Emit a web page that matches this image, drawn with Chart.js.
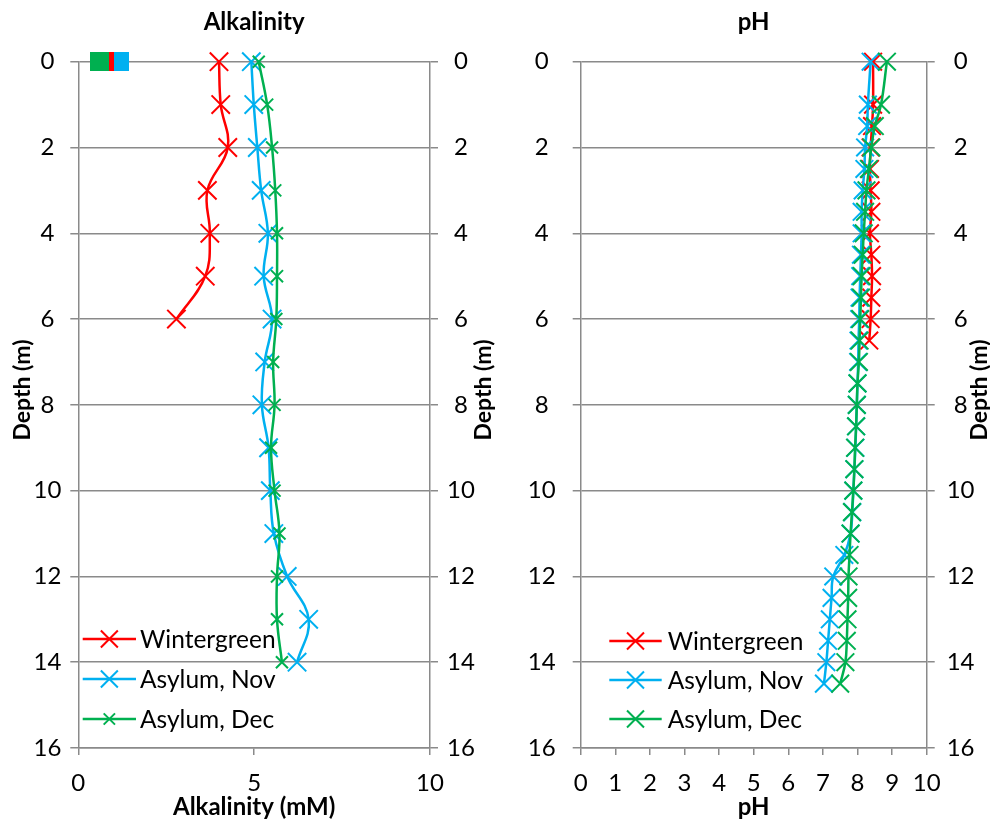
<!DOCTYPE html>
<html><head><meta charset="utf-8">
<script src="https://cdn.jsdelivr.net/npm/chart.js@4"></script>
<style>
html,body{margin:0;padding:0;background:#fff;}
#wrap{position:relative;width:990px;height:823px;overflow:hidden;}
.c{position:absolute;top:0;width:495px;height:823px;}
</style></head><body>
<div id="wrap">
<div class="c" style="left:0"><canvas id="c1" width="495" height="823"></canvas></div>
<div class="c" style="left:495px"><canvas id="c2" width="495" height="823"></canvas></div>
</div>
<script>
// ---- Data ----
const seriesNames = ['Wintergreen', 'Asylum, Nov', 'Asylum, Dec'];
const depthTicks = [0, 2, 4, 6, 8, 10, 12, 14, 16];

// Alkalinity (mM)
const alkDepthWintergreen = [0, 1, 2, 3, 4, 5, 6];
const alkWintergreen = [4.00, 4.05, 4.25, 3.67, 3.74, 3.61, 2.79];
const alkDepthAsylum = [0, 1, 2, 3, 4, 5, 6, 7, 8, 9, 10, 11, 12, 13, 14];
const alkNov = [4.92, 4.99, 5.09, 5.20, 5.39, 5.27, 5.51, 5.30, 5.22, 5.41, 5.46, 5.56, 5.94, 6.55, 6.22];
const alkDec = [5.13, 5.37, 5.51, 5.60, 5.65, 5.65, 5.63, 5.54, 5.58, 5.48, 5.58, 5.72, 5.65, 5.65, 5.79];

// pH
const phDepthWintergreen = [0, 1, 1.5, 2, 2.5, 3, 3.5, 4, 4.5, 5, 5.5, 6, 6.5];
const phWintergreen = [8.45, 8.45, 8.42, 8.38, 8.36, 8.38, 8.40, 8.36, 8.40, 8.42, 8.40, 8.38, 8.34];
const phDepthAsylum = [0, 1, 1.5, 2, 2.5, 3, 3.5, 4, 4.5, 5, 5.5, 6, 6.5, 7, 7.5, 8, 8.5, 9, 9.5, 10, 10.5, 11, 11.5, 12, 12.5, 13, 13.5, 14, 14.5];
const phNov = [8.38, 8.30, 8.28, 8.22, 8.20, 8.15, 8.12, 8.12, 8.10, 8.08, 8.06, 8.05, 8.03, 8.02, 8.00, 7.98, 7.96, 7.94, 7.91, 7.88, 7.85, 7.80, 7.62, 7.30, 7.25, 7.20, 7.15, 7.10, 7.03];
const phDec = [8.85, 8.68, 8.50, 8.40, 8.33, 8.26, 8.22, 8.18, 8.15, 8.12, 8.10, 8.08, 8.06, 8.04, 8.00, 7.98, 7.96, 7.93, 7.91, 7.88, 7.84, 7.80, 7.77, 7.74, 7.73, 7.71, 7.69, 7.65, 7.50];

// ---- Styles ----
const RED = '#FF0000', BLUE = '#00B0F0', GREEN = '#00B050';
const GRID = '#8a8a8a';
const FONT = 'Lato, "Open Sans", sans-serif';
const TICK_SIZE = 24;

function pts(xs, ys) { return xs.map((v, i) => ({x: v, y: ys[i]})); }

function ds(label, color, data, r, order) {
  return {
    label, data, borderColor: color, backgroundColor: color,
    borderWidth: 2.5, pointStyle: 'crossRot', pointRadius: r, pointHoverRadius: r,
    pointBorderWidth: 2, pointBorderColor: color, showLine: true, tension: 0.4,
    clip: false, order
  };
}

const insideLegend = {
  id: 'insideLegend',
  afterDatasetsDraw(chart, args, opts) {
    const ctx = chart.ctx, ca = chart.chartArea;
    ctx.save();
    chart.data.datasets.forEach((d, i) => {
      const y = ca.bottom - opts.bottomOffset + i * opts.rowGap;
      const x0 = ca.left + opts.x0, x1 = x0 + opts.len;
      ctx.strokeStyle = d.borderColor; ctx.lineWidth = 2.5;
      ctx.beginPath(); ctx.moveTo(x0, y); ctx.lineTo(x1, y); ctx.stroke();
      const r = opts.radii[i] * Math.SQRT1_2, cx = (x0 + x1) / 2;
      ctx.lineWidth = 2;
      ctx.beginPath();
      ctx.moveTo(cx - r, y - r); ctx.lineTo(cx + r, y + r);
      ctx.moveTo(cx + r, y - r); ctx.lineTo(cx - r, y + r);
      ctx.stroke();
      ctx.fillStyle = '#000'; ctx.font = opts.font; ctx.textBaseline = 'middle'; ctx.textAlign = 'left';
      ctx.fillText(d.label, x1 + opts.gap, y + 1);
    });
    ctx.restore();
  }
};

const sideTitles = {
  id: 'sideTitles',
  afterDraw(chart, args, opts) {
    const ctx = chart.ctx;
    ctx.save();
    ctx.font = 'bold 23px ' + FONT; ctx.fillStyle = '#000';
    ctx.textAlign = 'center'; ctx.textBaseline = 'middle';
    (opts.xs || []).forEach(x => {
      ctx.save(); ctx.translate(x, opts.y); ctx.rotate(-Math.PI / 2);
      ctx.fillText(opts.text, 0, 0); ctx.restore();
    });
    (opts.boxes || []).forEach(b => { ctx.fillStyle = b.c; ctx.fillRect(b.x, b.y, b.w, b.h); });
    ctx.restore();
  }
};

function yAxis(pos, width, pad, onArea) {
  return {
    type: 'linear', position: pos, reverse: true, min: 0, max: 16,
    afterBuildTicks(s) { s.ticks = depthTicks.map(v => ({value: v})); },
    ticks: {color: '#000', font: {family: FONT, size: TICK_SIZE}, padding: pad, crossAlign: 'center'},
    grid: {color: GRID, lineWidth: 1.5, tickLength: 8, drawOnChartArea: onArea},
    border: {color: GRID, width: 1.5},
    afterFit(s) { s.width = width; }
  };
}

function makeChart(id, datasets, cfg) {
  return new Chart(document.getElementById(id), {
    type: 'scatter',
    data: {datasets},
    plugins: [insideLegend, sideTitles],
    options: {
      responsive: false, animation: false, devicePixelRatio: 1,
      layout: {padding: 0},
      scales: {
        x: {
          type: 'linear', position: 'bottom', min: 0, max: 10,
          ticks: {stepSize: cfg.step, color: '#000', font: {family: FONT, size: TICK_SIZE}, padding: 14},
          grid: {color: GRID, lineWidth: 1.5, tickLength: 7, drawOnChartArea: false},
          border: {color: GRID, width: 1.5},
          title: {display: true, text: cfg.xTitle, color: '#000', font: {family: FONT, size: 24, weight: 'bold'}, padding: {top: 0, bottom: 1}},
          afterFit(s) { s.height = 75; }
        },
        y: yAxis('left', cfg.yl, cfg.padL, true),
        y2: yAxis('right', cfg.yr, cfg.padR, false)
      },
      plugins: {
        legend: {display: false}, tooltip: {enabled: false},
        title: {display: true, text: cfg.title, color: '#000', fullSize: false,
          font: {family: FONT, size: 24, weight: 'bold'}, padding: {top: 8, bottom: 24.9}},
        insideLegend: cfg.legend,
        sideTitles: cfg.side
      }
    }
  });
}

makeChart('c1', [
  ds(seriesNames[0], RED, pts(alkWintergreen, alkDepthWintergreen), 13, 3),
  ds(seriesNames[1], BLUE, pts(alkNov, alkDepthAsylum), 13, 2),
  ds(seriesNames[2], GREEN, pts(alkDec, alkDepthAsylum), 8.5, 1)
], {
  step: 5, xTitle: 'Alkalinity (mM)', title: 'Alkalinity', yl: 78.3, yr: 65, padL: 9, padR: 9,
  legend: {x0: 4.4, len: 53.3, gap: 4, bottomOffset: 109, rowGap: 40, radii: [12, 12, 8], font: '24.5px ' + FONT},
  side: {text: 'Depth (m)', xs: [23, 484], y: 390,
    boxes: [{x: 90, y: 52, w: 19, h: 19, c: GREEN}, {x: 109, y: 52, w: 5, h: 19, c: RED}, {x: 114, y: 52, w: 15, h: 19, c: BLUE}]}
});

makeChart('c2', [
  ds(seriesNames[0], RED, pts(phWintergreen, phDepthWintergreen), 12.5, 3),
  ds(seriesNames[1], BLUE, pts(phNov, phDepthAsylum), 12.5, 2),
  ds(seriesNames[2], GREEN, pts(phDec, phDepthAsylum), 12.5, 1)
], {
  step: 1, xTitle: 'pH', title: 'pH', yl: 85.7, yr: 63.3, padL: 17, padR: 12,
  legend: {x0: 28.6, len: 52.4, gap: 6, bottomOffset: 107, rowGap: 39, radii: [12, 12, 12], font: '24.5px ' + FONT},
  side: {text: 'Depth (m)', xs: [485], y: 390}
});
</script>
</body></html>
